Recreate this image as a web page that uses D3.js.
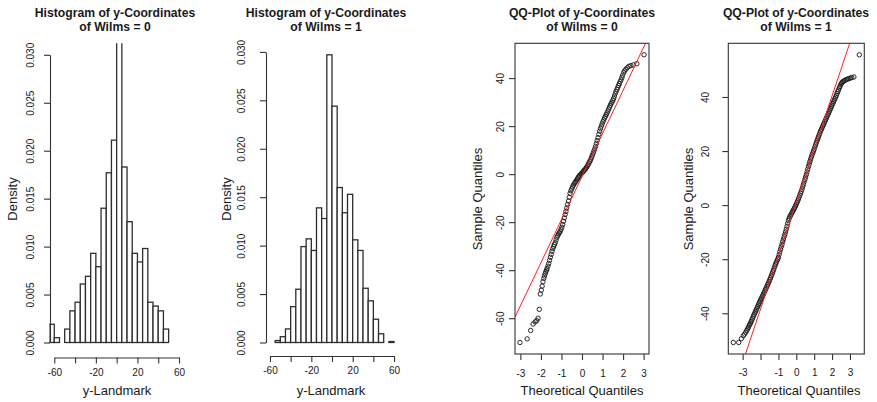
<!DOCTYPE html>
<html>
<head>
<meta charset="utf-8">
<script src="https://cdn.jsdelivr.net/npm/d3@7"></script>
<style>
  body { margin: 0; background: #fff; }
  svg { display: block; }
</style>
</head>
<body>
<svg id="chart" width="877" height="402"></svg>
<script>
// ---- data ----
const hist0Breaks = [-65, -60, -55, -50, -45, -40, -35, -30, -25, -20, -15, -10, -5, 0, 5, 10, 15, 20, 25, 30, 35, 40, 45, 50];
const hist0Density = [0.0019, 0.0005, 0, 0.0014, 0.0033, 0.0042, 0.0061, 0.0069, 0.0093, 0.0079, 0.0140, 0.0177,
  0.0211, 0.0345, 0.0183, 0.0126, 0.0093, 0.0084, 0.0098, 0.0042, 0.0038, 0.0033, 0.0014];
const hist1Breaks = [-55, -50, -45, -40, -35, -30, -25, -20, -15, -10, -5, 0, 5, 10, 15, 20, 25, 30, 35, 40, 45, 50, 55, 60];
const hist1Density = [0.0002, 0.0006, 0.0014, 0.0037, 0.0055, 0.0099, 0.0107, 0.0095, 0.0139, 0.0128, 0.0297,
  0.0244, 0.0160, 0.0134, 0.0153, 0.0106, 0.0095, 0.0056, 0.0043, 0.0024, 0.0009, 0, 0.0001];
const histXLimits = [-60, 60];
const hist0YLimit = 0.03;
const histTicksX = [-60, -40, -20, 0, 20, 40, 60];
const histTickLabelsX = [-60, -20, 20, 60];
const densityTicks = [0, 0.005, 0.010, 0.015, 0.020, 0.025, 0.030];

// [theoretical quantile, sample quantile]
const qq0Points = [
  [-3.02, -70.1], [-2.67, -68.6], [-2.50, -65.1], [-2.38, -62.4], [-2.28, -61.5], [-2.20, -61.0], [-2.14, -60.0],
  [-2.08, -56.3], [-2.03, -49.9], [-1.98, -48.3], [-1.94, -46.6], [-1.90, -44.8], [-1.86, -43.4], [-1.83, -42.4],
  [-1.79, -41.4], [-1.76, -40.6], [-1.73, -40.0], [-1.70, -39.3], [-1.66, -38.3], [-1.62, -37.2], [-1.58, -35.9],
  [-1.54, -34.6], [-1.50, -33.4], [-1.46, -32.1], [-1.42, -31.0], [-1.38, -30.1], [-1.34, -29.3], [-1.30, -28.5],
  [-1.26, -27.4], [-1.22, -26.3], [-1.18, -25.6], [-1.14, -24.9], [-1.10, -24.4], [-1.06, -23.8], [-1.02, -23.0],
  [-0.98, -22.1], [-0.94, -21.0], [-0.90, -19.6], [-0.86, -18.2], [-0.82, -16.8], [-0.78, -15.5], [-0.74, -14.1],
  [-0.70, -12.6], [-0.66, -11.2], [-0.62, -9.6], [-0.58, -8.0], [-0.54, -6.9], [-0.50, -6.1], [-0.46, -5.3],
  [-0.42, -4.6], [-0.38, -4.0], [-0.34, -3.5], [-0.30, -3.0], [-0.26, -2.4], [-0.22, -1.9], [-0.18, -1.3],
  [-0.14, -0.8], [-0.10, -0.4], [-0.06, 0.0], [-0.02, 0.3], [0.02, 0.7], [0.06, 1.1], [0.10, 1.5], [0.14, 1.9],
  [0.18, 2.3], [0.22, 2.8], [0.26, 3.4], [0.30, 4.0], [0.34, 4.7], [0.38, 5.3], [0.42, 6.0], [0.46, 6.9],
  [0.50, 7.8], [0.54, 8.7], [0.58, 9.6], [0.62, 10.5], [0.66, 11.6], [0.70, 12.8], [0.74, 14.0], [0.78, 15.2],
  [0.82, 16.6], [0.86, 17.9], [0.90, 19.0], [0.94, 20.0], [0.98, 20.9], [1.02, 21.8], [1.06, 22.6], [1.10, 23.4],
  [1.14, 24.1], [1.18, 24.8], [1.22, 25.5], [1.26, 26.3], [1.30, 27.1], [1.34, 27.9], [1.38, 28.7], [1.42, 29.4],
  [1.46, 30.0], [1.50, 30.7], [1.54, 31.5], [1.58, 32.5], [1.62, 33.5], [1.66, 34.4], [1.70, 35.3], [1.74, 36.1],
  [1.78, 36.9], [1.82, 37.7], [1.86, 38.5], [1.90, 39.3], [1.94, 40.2], [1.98, 41.2], [2.03, 42.3], [2.08, 43.1],
  [2.14, 43.7], [2.20, 44.3], [2.28, 44.9], [2.38, 45.2], [2.50, 45.5], [2.67, 46.0], [3.02, 49.7]
];
const qq1Points = [
  [-3.52, -50.8], [-3.22, -50.8], [-3.07, -49.4], [-2.96, -48.3], [-2.89, -47.7], [-2.82, -47.0], [-2.77, -46.3],
  [-2.72, -45.8], [-2.68, -45.2], [-2.64, -44.6], [-2.60, -44.1], [-2.56, -43.6], [-2.52, -43.0], [-2.48, -42.4],
  [-2.44, -41.8], [-2.40, -41.1], [-2.36, -40.5], [-2.32, -39.9], [-2.28, -39.3], [-2.24, -38.7], [-2.20, -38.1],
  [-2.16, -37.5], [-2.12, -36.9], [-2.08, -36.3], [-2.04, -35.7], [-2.00, -35.1], [-1.96, -34.6], [-1.92, -34.0],
  [-1.88, -33.5], [-1.84, -32.9], [-1.80, -32.4], [-1.76, -31.8], [-1.72, -31.2], [-1.68, -30.6], [-1.64, -30.0],
  [-1.60, -29.4], [-1.56, -28.8], [-1.52, -28.2], [-1.48, -27.5], [-1.44, -26.9], [-1.40, -26.2], [-1.36, -25.5],
  [-1.32, -24.8], [-1.28, -24.1], [-1.24, -23.3], [-1.20, -22.6], [-1.16, -21.9], [-1.12, -21.2], [-1.08, -20.6],
  [-1.04, -20.0], [-1.00, -19.3], [-0.96, -18.3], [-0.92, -17.3], [-0.88, -16.3], [-0.84, -15.4], [-0.80, -14.5],
  [-0.76, -13.5], [-0.72, -12.6], [-0.68, -11.7], [-0.64, -10.8], [-0.60, -9.9], [-0.56, -8.9], [-0.52, -7.8],
  [-0.48, -6.7], [-0.44, -5.7], [-0.40, -4.9], [-0.36, -4.3], [-0.32, -3.8], [-0.28, -3.3], [-0.24, -2.8],
  [-0.20, -2.3], [-0.16, -1.8], [-0.12, -1.3], [-0.08, -0.8], [-0.04, -0.2], [0.00, 0.4], [0.04, 1.0], [0.08, 1.6],
  [0.12, 2.3], [0.16, 3.0], [0.20, 3.7], [0.24, 4.4], [0.28, 5.1], [0.32, 5.9], [0.36, 6.8], [0.40, 7.7],
  [0.44, 8.6], [0.48, 9.5], [0.52, 10.4], [0.56, 11.3], [0.60, 12.3], [0.64, 13.3], [0.68, 14.3], [0.72, 15.2],
  [0.76, 16.1], [0.80, 17.0], [0.84, 17.8], [0.88, 18.6], [0.92, 19.3], [0.96, 20.0], [1.00, 20.7], [1.04, 21.5],
  [1.08, 22.3], [1.12, 23.1], [1.16, 23.9], [1.20, 24.6], [1.24, 25.3], [1.28, 26.0], [1.32, 26.7], [1.36, 27.4],
  [1.40, 28.0], [1.44, 28.6], [1.48, 29.2], [1.52, 29.8], [1.56, 30.4], [1.60, 31.0], [1.64, 31.6], [1.68, 32.2],
  [1.72, 32.8], [1.76, 33.4], [1.80, 34.0], [1.84, 34.6], [1.88, 35.2], [1.92, 35.8], [1.96, 36.4], [2.00, 37.0],
  [2.04, 37.6], [2.08, 38.2], [2.12, 38.8], [2.16, 39.4], [2.20, 40.0], [2.24, 40.6], [2.28, 41.3], [2.32, 42.0],
  [2.36, 42.6], [2.40, 43.3], [2.44, 43.9], [2.48, 44.5], [2.52, 45.0], [2.56, 45.4], [2.61, 45.7], [2.66, 45.9],
  [2.72, 46.2], [2.79, 46.4], [2.86, 46.6], [2.94, 46.8], [3.02, 47.0], [3.10, 47.2], [3.22, 47.4], [3.52, 55.6]
];
// sample quartiles used by qqline (1st and 3rd)
const qq0Quartiles = [-13.1, 11.1];
const qq1Quartiles = [-12.3, 14.3];
const qqTicksX = [-3, -2, -1, 0, 1, 2, 3];
const qq0TickLabelsX = [-3, -2, -1, 0, 1, 2, 3];
const qq1TickLabelsX = [-3, -1, 0, 1, 2, 3];
const qq0TicksY = [-60, -40, -20, 0, 20, 40];
const qq1TicksY = [-40, -20, 0, 20, 40];

// ---- layout ----
const FONT = '"Liberation Sans", Arial, Helvetica, sans-serif';
const INK = "#1a1a1a";
const regionTop = 43.3, regionBottom = 354;
const Z75 = 0.6745; // normal quantile at 0.75
const pad = ([lo, hi]) => [lo - 0.04 * (hi - lo), hi + 0.04 * (hi - lo)];

const svg = d3.select("#chart");

function addText(g, x, y, str, opts = {}) {
  const t = g.append("text")
    .attr("transform", `translate(${x},${y})` + (opts.rotate ? " rotate(-90)" : ""))
    .attr("text-anchor", "middle")
    .attr("font-family", FONT)
    .attr("font-size", opts.size || 13)
    .attr("font-weight", opts.bold ? "bold" : "normal")
    .attr("fill", INK)
    .text(str);
  if (opts.dy) t.attr("dy", opts.dy);
  return t;
}

function drawTitle(g, cfg, lines) {
  addText(g, cfg.titleX, 16.5, lines[0], { size: 12.2, bold: true });
  addText(g, cfg.titleX, 30.5, lines[1], { size: 12.2, bold: true });
}

function bottomAxis(g, scale, ticks, labels, cfg, keepDomain) {
  const ax = g.append("g")
    .attr("transform", `translate(0,${cfg.axisY})`)
    .call(d3.axisBottom(scale).tickValues(ticks).tickSize(6).tickSizeOuter(0)
      .tickFormat(d => labels.includes(d) ? String(d) : ""));
  ax.attr("font-family", FONT).attr("font-size", 10).attr("color", "#333");
  ax.selectAll("path, line").attr("stroke-width", 1.1);
  if (!keepDomain) ax.select(".domain").remove();
  ax.selectAll(".tick text").attr("y", cfg.xTickY - cfg.axisY).attr("dy", 0).attr("fill", INK);
}

function leftAxis(g, scale, ticks, fmt, cfg, keepDomain) {
  const ax = g.append("g")
    .attr("transform", `translate(${cfg.axisX},0)`)
    .call(d3.axisLeft(scale).tickValues(ticks).tickSize(6).tickSizeOuter(0).tickFormat(fmt));
  ax.attr("font-family", FONT).attr("font-size", 10).attr("color", "#333");
  ax.selectAll("path, line").attr("stroke-width", 1.1);
  if (!keepDomain) ax.select(".domain").remove();
  ax.selectAll(".tick text")
    .attr("x", null).attr("dy", "0.35em").attr("text-anchor", "middle").attr("fill", INK)
    .attr("transform", `translate(${cfg.yTickX - cfg.axisX},0) rotate(-90)`);
}

function drawHist(id, cfg, breaks, density, yMax, title) {
  const g = svg.append("g");
  const x = d3.scaleLinear().domain(pad(histXLimits)).range([cfg.left, cfg.right]);
  const y = d3.scaleLinear().domain(pad([0, yMax])).range([regionBottom, regionTop]);

  g.append("clipPath").attr("id", id).append("rect")
    .attr("x", cfg.left).attr("y", regionTop)
    .attr("width", cfg.right - cfg.left).attr("height", regionBottom - regionTop);

  const bins = density.map((d, i) => ({ x0: breaks[i], x1: breaks[i + 1], d }));
  g.append("g").attr("clip-path", `url(#${id})`)
    .selectAll("rect").data(bins).join("rect")
    .attr("x", b => x(b.x0))
    .attr("width", b => x(b.x1) - x(b.x0))
    .attr("y", b => y(b.d))
    .attr("height", b => y(0) - y(b.d))
    .attr("fill", "#fff")
    .attr("stroke", "#2e2e2e")
    .attr("stroke-width", 1.3);

  // axis lines run from first to last tick, like R
  const xa = x.copy().domain(histXLimits).range(histXLimits.map(x));
  bottomAxis(g, xa, histTicksX, histTickLabelsX, cfg, true);
  const yEnds = [densityTicks[0], densityTicks[densityTicks.length - 1]];
  const ya = y.copy().domain(yEnds).range(yEnds.map(y));
  leftAxis(g, ya, densityTicks, d3.format(".3f"), cfg, true);

  drawTitle(g, cfg, title);
  addText(g, cfg.xTitleX, 395, "y-Landmark");
  addText(g, cfg.yTitleX, 199, "Density", { rotate: true, dy: "0.35em" });
}

function drawQQ(id, cfg, points, quartiles, ticksY, tickLabelsX, title) {
  const g = svg.append("g");
  const x = d3.scaleLinear().domain(pad(d3.extent(points, p => p[0]))).range([cfg.left, cfg.right]);
  const y = d3.scaleLinear().domain(pad(d3.extent(points, p => p[1]))).range([regionBottom, regionTop]);

  g.append("clipPath").attr("id", id).append("rect")
    .attr("x", cfg.left).attr("y", regionTop)
    .attr("width", cfg.right - cfg.left).attr("height", regionBottom - regionTop);

  g.append("g").selectAll("circle").data(points).join("circle")
    .attr("cx", p => x(p[0]))
    .attr("cy", p => y(p[1]))
    .attr("r", 2.2)
    .attr("fill", "none")
    .attr("stroke", "#1e1e1e")
    .attr("stroke-width", 0.95);

  // qqline through the quartiles
  const slope = (quartiles[1] - quartiles[0]) / (2 * Z75);
  const intercept = quartiles[0] + slope * Z75;
  const [zx0, zx1] = x.domain();
  g.append("line").attr("clip-path", `url(#${id})`)
    .attr("x1", x(zx0)).attr("y1", y(intercept + slope * zx0))
    .attr("x2", x(zx1)).attr("y2", y(intercept + slope * zx1))
    .attr("stroke", "#ff2020")
    .attr("stroke-width", 1);

  g.append("rect")
    .attr("x", cfg.left).attr("y", regionTop)
    .attr("width", cfg.right - cfg.left).attr("height", regionBottom - regionTop)
    .attr("fill", "none").attr("stroke", "#333").attr("stroke-width", 1.1);

  bottomAxis(g, x, qqTicksX, tickLabelsX, { ...cfg, axisY: regionBottom }, false);
  leftAxis(g, y, ticksY, d => String(d), { ...cfg, axisX: cfg.left }, false);

  drawTitle(g, cfg, title);
  addText(g, cfg.xTitleX, 395, "Theoretical Quantiles");
  addText(g, cfg.yTitleX, 199, "Sample Quantiles", { rotate: true, dy: "0.35em" });
}

drawHist("clipH0",
  { left: 49.3, right: 184, axisX: 50, axisY: 357.5, xTickY: 375.5, yTickX: 30, yTitleX: 12, titleX: 115, xTitleX: 117 },
  hist0Breaks, hist0Density, hist0YLimit, ["Histogram of y-Coordinates", "of Wilms = 0"]);

drawHist("clipH1",
  { left: 265, right: 399, axisX: 266, axisY: 356, xTickY: 373.5, yTickX: 241, yTitleX: 226, titleX: 326, xTitleX: 331 },
  hist1Breaks, hist1Density, d3.max(hist1Density), ["Histogram of y-Coordinates", "of Wilms = 1"]);

drawQQ("clipQ0",
  { left: 515, right: 649, xTickY: 377, yTickX: 500, yTitleX: 477, titleX: 582, xTitleX: 582 },
  qq0Points, qq0Quartiles, qq0TicksY, qq0TickLabelsX, ["QQ-Plot of y-Coordinates", "of Wilms = 0"]);

drawQQ("clipQ1",
  { left: 728.3, right: 864.3, xTickY: 376, yTickX: 705, yTitleX: 688.5, titleX: 796, xTitleX: 799 },
  qq1Points, qq1Quartiles, qq1TicksY, qq1TickLabelsX, ["QQ-Plot of y-Coordinates", "of Wilms = 1"]);
</script>
</body>
</html>
